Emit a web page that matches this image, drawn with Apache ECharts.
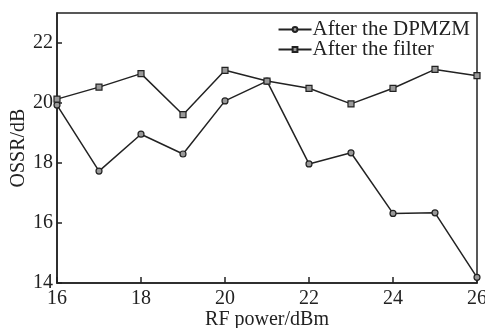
<!DOCTYPE html>
<html>
<head>
<meta charset="utf-8">
<script src="https://cdn.jsdelivr.net/npm/echarts@6/dist/echarts.min.js"></script>
<style>html,body{margin:0;padding:0;background:#fff}#c{width:485px;height:328px}</style>
</head>
<body>
<div id="c"></div>
<script>
var rfPower = [16, 17, 18, 19, 20, 21, 22, 23, 24, 25, 26];
var afterDPMZM = [19.93, 17.73, 18.96, 18.30, 20.07, 20.73, 17.97, 18.34, 16.32, 16.34, 14.19];
var afterFilter = [20.13, 20.53, 20.98, 19.61, 21.09, 20.73, 20.49, 19.97, 20.49, 21.12, 20.91];
var seriesNames = ['After the DPMZM', 'After the filter'];

var font = 'Liberation Serif';
var ink = '#222';
var chart = echarts.init(document.getElementById('c'), null, {renderer: 'canvas'});
function pairs(ys) { return rfPower.map(function (x, i) { return [x, ys[i]]; }); }
chart.setOption({
  backgroundColor: '#fff',
  animation: false,
  grid: {left: 57, right: 8, top: 13, bottom: 45, show: true, borderColor: ink, borderWidth: 1.5,
         backgroundColor: 'transparent', containLabel: false, outerBoundsMode: 'none'},
  legend: {
    orient: 'vertical', right: 10, top: 14, padding: 5, itemWidth: 33, itemHeight: 6, itemGap: -1,
    textStyle: {fontFamily: font, fontSize: 21, color: ink, padding: [0, 0, 0, -4]},
    data: seriesNames
  },
  xAxis: {
    type: 'value', min: 16, max: 26, interval: 2,
    name: 'RF power/dBm', nameLocation: 'middle', nameGap: 27, nameMoveOverlap: false,
    nameTextStyle: {fontFamily: font, fontSize: 20, color: ink},
    axisLine: {lineStyle: {color: ink, width: 1.5}},
    axisTick: {inside: true, length: 6, lineStyle: {color: ink, width: 1.5}},
    axisLabel: {fontFamily: font, fontSize: 20, color: ink, margin: 6},
    splitLine: {show: false}
  },
  yAxis: {
    type: 'value', min: 14, max: 23, interval: 2,
    name: 'OSSR/dB', nameLocation: 'middle', nameGap: 28, nameMoveOverlap: false,
    nameTextStyle: {fontFamily: font, fontSize: 20, color: ink},
    axisLine: {lineStyle: {color: ink, width: 1.5}},
    axisTick: {inside: true, length: 5, lineStyle: {color: ink, width: 1.5}},
    axisLabel: {fontFamily: font, fontSize: 20, color: ink, margin: 4, showMaxLabel: false},
    splitLine: {show: false}
  },
  series: [
    {
      name: seriesNames[0], type: 'line', data: pairs(afterDPMZM),
      symbol: 'circle', symbolSize: 6, clip: false,
      lineStyle: {color: ink, width: 1.5},
      itemStyle: {color: '#999', borderColor: ink, borderWidth: 1.2}
    },
    {
      name: seriesNames[1], type: 'line', data: pairs(afterFilter),
      symbol: 'rect', symbolSize: 6, clip: false,
      lineStyle: {color: ink, width: 1.5},
      itemStyle: {color: '#999', borderColor: ink, borderWidth: 1.2}
    }
  ]
});
</script>
</body>
</html>
